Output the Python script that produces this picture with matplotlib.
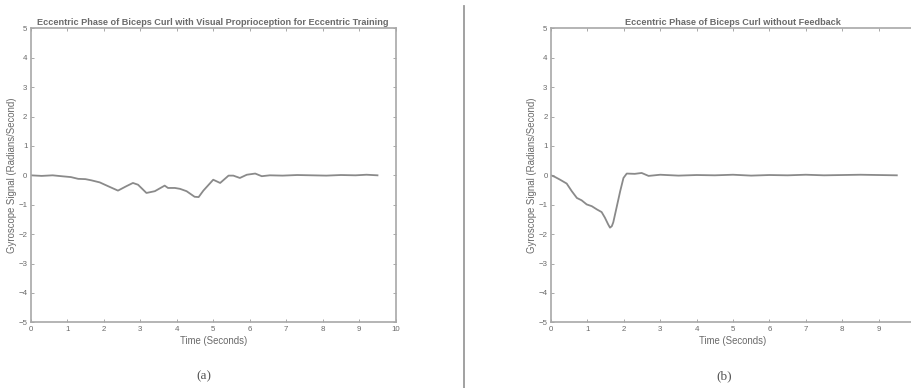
import matplotlib
matplotlib.use("Agg")
import matplotlib.pyplot as plt
from matplotlib.lines import Line2D

plt.rcParams['font.family'] = ['Liberation Sans', 'DejaVu Sans']

# Panel (a): with visual proprioception
t_a = [0.0, 0.3, 0.6, 0.84, 1.1, 1.3, 1.5, 1.66, 1.89, 2.12, 2.39, 2.62, 2.8, 2.94,
       3.17, 3.4, 3.67, 3.76, 3.95, 4.09, 4.27, 4.49, 4.6, 4.73, 5.0, 5.19, 5.42,
       5.55, 5.73, 5.92, 6.15, 6.33, 6.55, 6.9, 7.3, 7.7, 8.1, 8.5, 8.9, 9.2, 9.5]
g_a = [0.0, -0.02, 0.0, -0.03, -0.06, -0.12, -0.13, -0.17, -0.24, -0.37, -0.52, -0.37,
       -0.26, -0.32, -0.6, -0.54, -0.35, -0.43, -0.43, -0.46, -0.54, -0.73, -0.74,
       -0.52, -0.15, -0.26, -0.01, -0.01, -0.09, 0.02, 0.06, -0.03, 0.0, -0.01, 0.01,
       0.0, -0.01, 0.01, 0.0, 0.02, 0.0]

# Panel (b): without feedback
t_b = [0.0, 0.1, 0.25, 0.43, 0.57, 0.71, 0.84, 0.98, 1.12, 1.26, 1.39, 1.48, 1.57,
       1.62, 1.67, 1.71, 1.8, 1.9, 1.99, 2.08, 2.3, 2.49, 2.68, 3.0, 3.5, 4.0, 4.5,
       5.0, 5.5, 6.0, 6.5, 7.0, 7.5, 8.0, 8.5, 9.0, 9.5]
g_b = [0.0, -0.05, -0.15, -0.28, -0.54, -0.77, -0.85, -0.99, -1.05, -1.16, -1.25,
       -1.44, -1.67, -1.78, -1.73, -1.6, -1.1, -0.54, -0.09, 0.06, 0.05, 0.08, -0.02,
       0.02, -0.01, 0.01, 0.0, 0.02, -0.01, 0.01, 0.0, 0.02, 0.0, 0.01, 0.02, 0.01, 0.0]

x_ticks = list(range(0, 11))
y_ticks = list(range(-5, 6))

title_a = "Eccentric Phase of Biceps Curl with Visual Proprioception for Eccentric Training"
title_b = "Eccentric Phase of Biceps Curl without Feedback"
xlabel = "Time (Seconds)"
ylabel = "Gyroscope Signal (Radians/Second)"

spine_c = "#a8a8a8"
text_c = "#6a6a6a"
line_c = "#8a8a8a"

fig = plt.figure(figsize=(9.12, 3.88), dpi=100)
ax_a = fig.add_axes([0.0337, 0.1693, 0.4002, 0.7577])
ax_b = fig.add_axes([0.6042, 0.1693, 0.3991, 0.7577])

for ax, t, g, title in [(ax_a, t_a, g_a, title_a), (ax_b, t_b, g_b, title_b)]:
    ax.plot(t, g, color=line_c, lw=1.3)
    ax.set_xlim(0, 10)
    ax.set_ylim(-5, 5)
    ax.set_xticks(x_ticks)
    ax.set_yticks(y_ticks)
    ax.tick_params(direction='in', length=2.5, width=0.7, colors=spine_c,
                   labelcolor=text_c, labelsize=5.7, top=True, right=True, pad=2.5)
    for s in ax.spines.values():
        s.set_color(spine_c)
        s.set_linewidth(1.2)
    ax.set_title(title, fontsize=6.6, fontweight='bold', color=text_c, pad=2.5)
    ax.set_xlabel(xlabel, fontsize=6.9, color=text_c, labelpad=2.5)
    ax.set_ylabel(ylabel, fontsize=6.9, color=text_c, labelpad=1.0)

fig.text(204 / 912, 1 - 376 / 388, "(a)", family='Liberation Serif', fontsize=9.5,
         color="#555555", ha='center', va='center')
fig.text(724 / 912, 1 - 376 / 388, "(b)", family='Liberation Serif', fontsize=9.5,
         color="#555555", ha='center', va='center')

fig.add_artist(Line2D([464 / 912, 464 / 912], [0, 1 - 6 / 388], color="#9a9a9a",
                      lw=1.3, transform=fig.transFigure))

fig.savefig("out.png", dpi=100)
